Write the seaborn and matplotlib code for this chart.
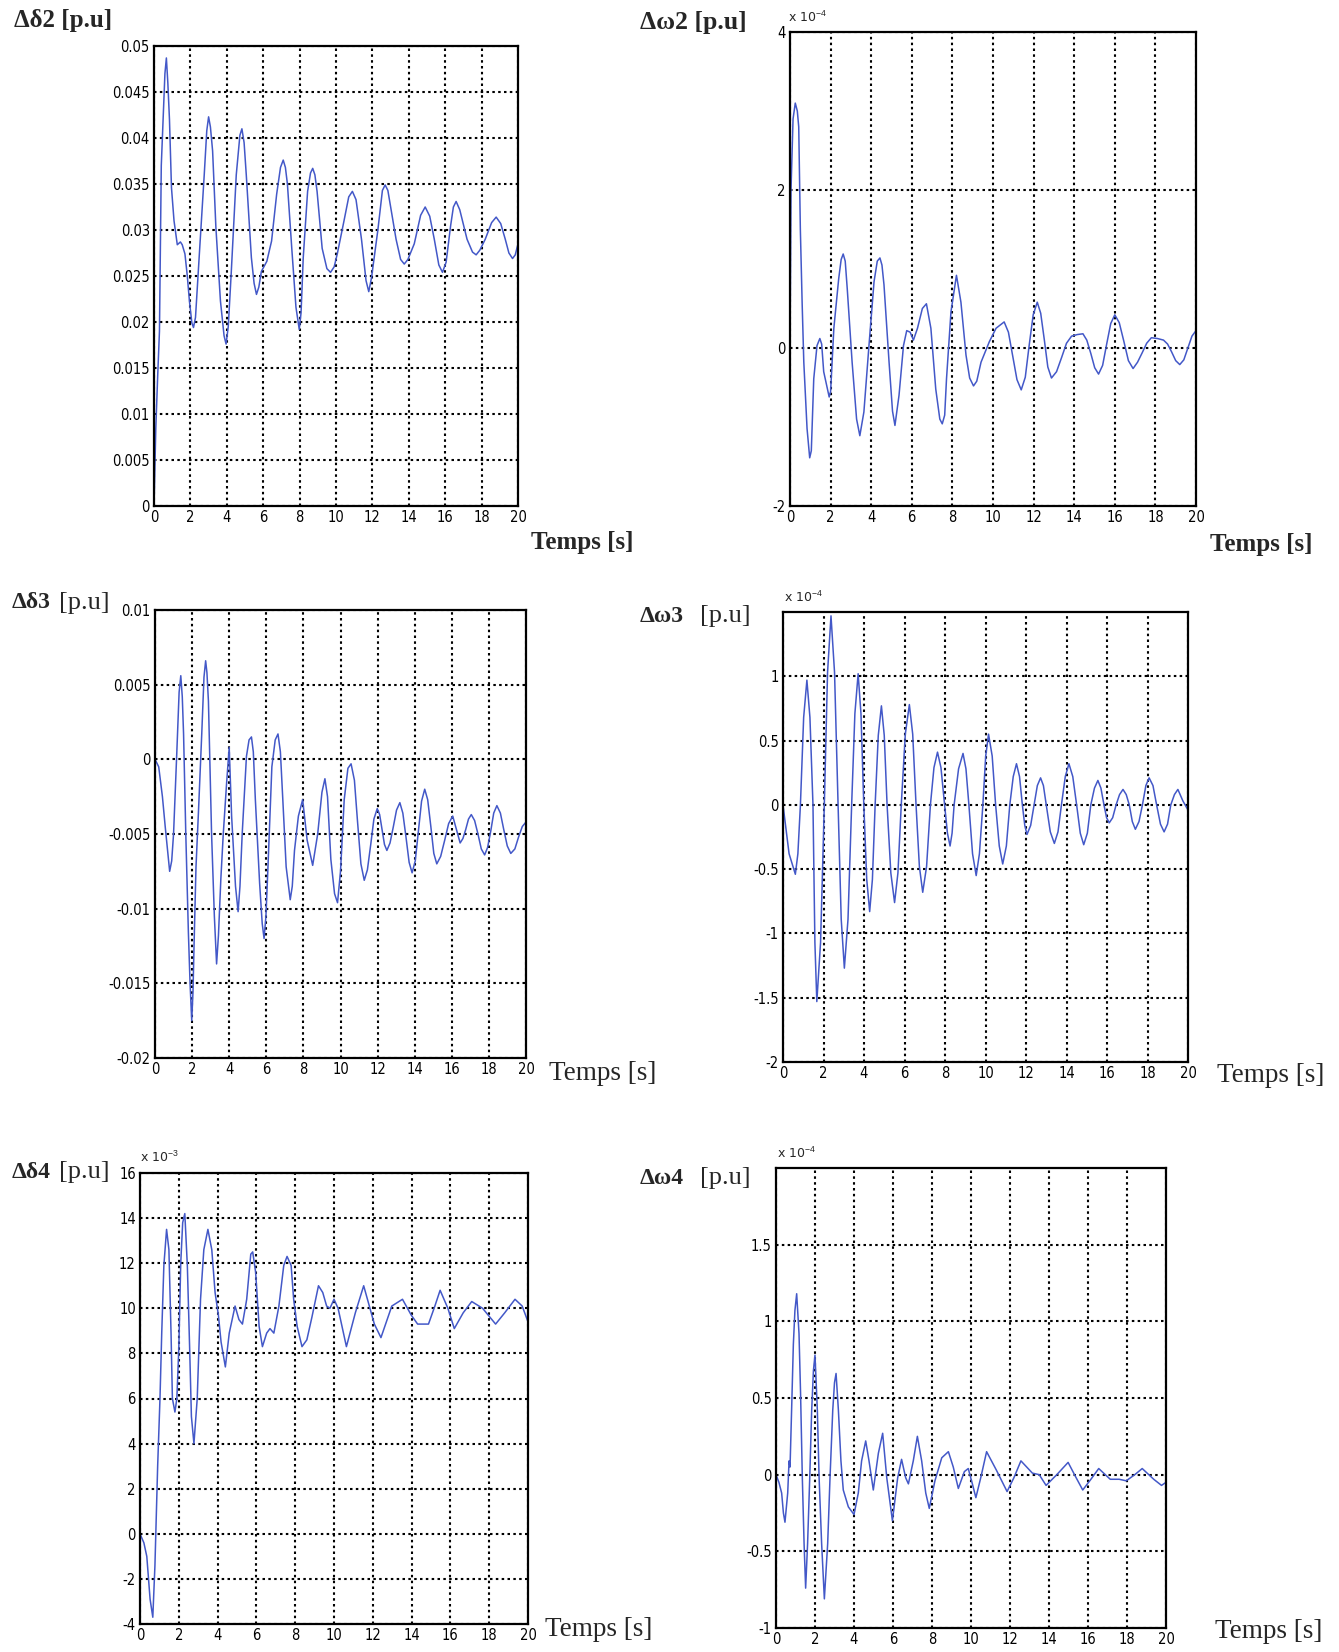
import matplotlib
matplotlib.use("Agg")
import matplotlib.pyplot as plt
from matplotlib.ticker import FuncFormatter
import seaborn as sns

# ---- Δδ2 [p.u] ----
t_d2 = [0, 0.1, 0.2, 0.3, 0.4, 0.5, 0.6, 0.68, 0.76, 0.85, 0.96, 1.1, 1.28, 1.45, 1.55, 1.7, 1.83, 1.95,
        2.08, 2.17, 2.28, 2.48, 2.76, 2.9, 3.0, 3.1, 3.22, 3.4, 3.65, 3.85, 3.96, 4.08, 4.24, 4.52, 4.72,
        4.83, 4.95, 5.07, 5.35, 5.5, 5.63, 5.76, 5.9, 6.2, 6.46, 6.74, 6.95, 7.1, 7.22, 7.33, 7.57, 7.8,
        7.98, 8.08, 8.2, 8.44, 8.6, 8.72, 8.84, 8.96, 9.24, 9.5, 9.7, 9.9, 10.07, 10.44, 10.7, 10.9, 11.1,
        11.4, 11.65, 11.8, 11.95, 12.3, 12.55, 12.7, 12.85, 13.3, 13.55, 13.75, 13.95, 14.3, 14.65, 14.9,
        15.15, 15.4, 15.65, 15.85, 16.05, 16.3, 16.45, 16.6, 16.8, 17.2, 17.5, 17.7, 17.9, 18.2, 18.55,
        18.8, 19.05, 19.3, 19.5, 19.7, 19.85, 20.0]
d_delta2 = [0, 0.0085, 0.014, 0.019, 0.037, 0.042, 0.047, 0.0487, 0.046, 0.042, 0.0346, 0.031, 0.0284,
            0.0287, 0.0284, 0.0274, 0.025, 0.0222, 0.0199, 0.0194, 0.0205, 0.027, 0.036, 0.0408, 0.0423,
            0.0412, 0.0386, 0.0303, 0.0223, 0.0185, 0.0176, 0.0195, 0.0252, 0.036, 0.0403, 0.041, 0.0395,
            0.036, 0.027, 0.0242, 0.023, 0.0238, 0.0255, 0.0266, 0.0288, 0.0339, 0.0368, 0.0376, 0.0368,
            0.035, 0.028, 0.0216, 0.0192, 0.021, 0.027, 0.0342, 0.0362, 0.0367, 0.036, 0.0342, 0.028,
            0.0258, 0.0254, 0.026, 0.0274, 0.031, 0.0336, 0.0342, 0.0333, 0.029, 0.0245, 0.0233, 0.0248,
            0.030, 0.0343, 0.0349, 0.0343, 0.029, 0.0268, 0.0263, 0.0268, 0.0285, 0.0316, 0.0325, 0.0315,
            0.029, 0.0262, 0.0254, 0.0265, 0.0305, 0.0325, 0.0331, 0.0322, 0.029, 0.0276, 0.0273, 0.0278,
            0.029, 0.0308, 0.0314, 0.0307, 0.029, 0.0275, 0.0269, 0.0273, 0.0285]

# ---- Δω2 [p.u] (x 1e-4) ----
t_w2 = [0, 0.05, 0.15, 0.26, 0.36, 0.43, 0.51, 0.6, 0.68, 0.84, 0.97, 1.05, 1.17, 1.33, 1.47, 1.56, 1.66,
        1.93, 2.0, 2.16, 2.4, 2.52, 2.62, 2.72, 2.82, 3.06, 3.28, 3.44, 3.64, 3.89, 4.14, 4.3, 4.43, 4.53,
        4.63, 4.88, 5.05, 5.17, 5.37, 5.59, 5.75, 5.92, 6.08, 6.28, 6.52, 6.72, 6.94, 7.18, 7.38, 7.5,
        7.62, 7.71, 7.93, 8.2, 8.42, 8.67, 8.85, 9.04, 9.2, 9.41, 9.82, 10.15, 10.55, 10.76, 10.97, 11.18,
        11.39, 11.59, 11.78, 11.98, 12.18, 12.35, 12.53, 12.7, 12.88, 13.13, 13.38, 13.62, 13.87, 14.15,
        14.43, 14.62, 14.82, 15.01, 15.2, 15.4, 15.6, 15.8, 16.0, 16.22, 16.45, 16.67, 16.9, 17.12,
        17.35, 17.57, 17.8, 18.1, 18.4, 18.6, 18.8, 19.0, 19.2, 19.4, 19.6, 19.8, 20.0]
d_omega2 = [0, 2.0, 2.9, 3.1, 3.0, 2.8, 1.5, 0.55, -0.18, -1.02, -1.39, -1.3, -0.39, 0.03, 0.12, 0.05,
            -0.3, -0.62, -0.55, 0.25, 0.88, 1.12, 1.19, 1.1, 0.75, -0.18, -0.9, -1.11, -0.81, 0.03, 0.84,
            1.1, 1.14, 1.05, 0.8, -0.18, -0.8, -0.98, -0.6, 0.03, 0.22, 0.2, 0.1, 0.25, 0.5, 0.56, 0.25,
            -0.52, -0.9, -0.96, -0.85, -0.39, 0.46, 0.92, 0.58, -0.09, -0.38, -0.48, -0.42, -0.18, 0.08,
            0.25, 0.33, 0.2, -0.1, -0.4, -0.53, -0.37, 0.03, 0.42, 0.58, 0.44, 0.1, -0.24, -0.38, -0.3,
            -0.12, 0.06, 0.15, 0.17, 0.18, 0.1, -0.07, -0.25, -0.33, -0.22, 0.05, 0.31, 0.42, 0.32, 0.08,
            -0.16, -0.26, -0.18, -0.06, 0.06, 0.13, 0.12, 0.1, 0.05, -0.05, -0.16, -0.21, -0.15, 0.0,
            0.15, 0.22]

# ---- Δδ3 [p.u] ----
t_d3 = [0, 0.2, 0.4, 0.55, 0.79, 0.9, 1.0, 1.18, 1.3, 1.39, 1.47, 1.54, 1.66, 1.8, 1.89, 1.98, 2.05, 2.1,
        2.21, 2.34, 2.52, 2.64, 2.73, 2.8, 2.88, 3.05, 3.2, 3.32, 3.42, 3.55, 3.68, 3.86, 4.0, 4.13, 4.34,
        4.48, 4.58, 4.7, 4.93, 5.07, 5.2, 5.3, 5.41, 5.64, 5.78, 5.88, 5.98, 6.09, 6.3, 6.48, 6.63, 6.76,
        6.89, 7.07, 7.29, 7.4, 7.52, 7.73, 7.96, 8.2, 8.5, 8.77, 9.0, 9.16, 9.3, 9.48, 9.68, 9.84, 10.0,
        10.2, 10.4, 10.57, 10.75, 10.92, 11.1, 11.28, 11.45, 11.63, 11.8, 11.98, 12.11, 12.24, 12.37,
        12.5, 12.67, 12.85, 13.02, 13.2, 13.36, 13.53, 13.7, 13.86, 14.03, 14.2, 14.37, 14.54, 14.7,
        14.87, 15.03, 15.19, 15.4, 15.62, 15.83, 16.05, 16.25, 16.45, 16.6, 16.75, 16.9, 17.05, 17.23,
        17.41, 17.59, 17.77, 17.93, 18.1, 18.26, 18.43, 18.62, 18.8, 18.99, 19.18, 19.4, 19.6, 19.8,
        20.0]
d_delta3 = [0, -0.0005, -0.0025, -0.0045, -0.0075, -0.0068, -0.005, 0.0006, 0.0045, 0.0056, 0.0042,
            0.0017, -0.005, -0.0116, -0.015, -0.0175, -0.0155, -0.0127, -0.0072, -0.0036, 0.0017, 0.0055,
            0.0066, 0.0058, 0.0039, -0.005, -0.0105, -0.0137, -0.0118, -0.008, -0.005, -0.0016, 0.0008,
            -0.0038, -0.0085, -0.0102, -0.0085, -0.005, 0.0002, 0.0013, 0.0015, 0.0005, -0.0027, -0.0083,
            -0.011, -0.012, -0.0105, -0.0072, -0.0005, 0.0013, 0.0017, 0.0005, -0.0027, -0.0072, -0.0094,
            -0.0085, -0.0061, -0.0038, -0.0027, -0.0054, -0.0071, -0.005, -0.0022, -0.0013, -0.0025,
            -0.0067, -0.009, -0.0096, -0.0075, -0.0027, -0.0006, -0.0003, -0.0014, -0.0042, -0.007,
            -0.0081, -0.0074, -0.0057, -0.004, -0.0033, -0.0037, -0.0047, -0.0057, -0.0061, -0.0056,
            -0.0045, -0.0034, -0.0029, -0.0036, -0.0052, -0.0069, -0.0076, -0.0068, -0.0048, -0.0028,
            -0.002, -0.0027, -0.0045, -0.0063, -0.007, -0.0065, -0.0054, -0.0043, -0.0038, -0.0047,
            -0.0056, -0.0053, -0.0047, -0.004, -0.0037, -0.0041, -0.005, -0.006, -0.0064, -0.0059,
            -0.0048, -0.0036, -0.0031, -0.0036, -0.0047, -0.0058, -0.0063, -0.006, -0.0052, -0.0045,
            -0.0042]

# ---- Δω3 [p.u] (x 1e-4) ----
t_w3 = [0, 0.3, 0.61, 0.735, 0.86, 1.02, 1.18, 1.33, 1.48, 1.575, 1.67, 1.855, 2.04, 2.2, 2.37, 2.545,
        2.72, 2.875, 3.03, 3.21, 3.39, 3.55, 3.71, 3.85, 3.99, 4.135, 4.28, 4.415, 4.55, 4.705, 4.86, 5.0,
        5.14, 5.325, 5.51, 5.675, 5.84, 6.04, 6.24, 6.405, 6.57, 6.735, 6.9, 7.09, 7.28, 7.455, 7.63,
        7.8, 7.98, 8.12, 8.25, 8.35, 8.45, 8.67, 8.89, 9.035, 9.18, 9.36, 9.54, 9.7, 9.87, 10.01, 10.15,
        10.33, 10.5, 10.68, 10.85, 11.03, 11.2, 11.37, 11.53, 11.68, 11.82, 11.94, 12.05, 12.23, 12.4,
        12.56, 12.72, 12.86, 13.0, 13.2, 13.4, 13.58, 13.75, 13.94, 14.12, 14.31, 14.5, 14.68, 14.85,
        15.03, 15.2, 15.38, 15.55, 15.7, 15.85, 15.98, 16.11, 16.28, 16.45, 16.62, 16.79, 16.95, 17.1,
        17.25, 17.4, 17.58, 17.75, 17.92, 18.08, 18.27, 18.45, 18.64, 18.82, 18.99, 19.15, 19.33, 19.5,
        19.75, 20.0]
d_omega3 = [0, -0.38, -0.54, -0.38, 0, 0.68, 0.97, 0.68, 0, -1.07, -1.53, -1.07, 0, 1.03, 1.47, 1.03, 0,
            -0.89, -1.27, -0.89, 0, 0.71, 1.02, 0.71, 0, -0.58, -0.83, -0.58, 0, 0.54, 0.77, 0.54, 0,
            -0.53, -0.76, -0.53, 0, 0.55, 0.78, 0.55, 0, -0.48, -0.68, -0.48, 0, 0.29, 0.41, 0.29, 0.0,
            -0.22, -0.32, -0.22, 0, 0.28, 0.4, 0.28, 0, -0.38, -0.55, -0.38, 0, 0.38, 0.55, 0.38, 0,
            -0.32, -0.46, -0.32, 0, 0.22, 0.32, 0.22, 0, -0.16, -0.23, -0.16, 0, 0.15, 0.21, 0.15, 0,
            -0.21, -0.3, -0.21, 0, 0.22, 0.32, 0.22, 0, -0.22, -0.31, -0.22, 0, 0.13, 0.19, 0.13, 0,
            -0.1, -0.14, -0.1, 0, 0.08, 0.12, 0.08, 0, -0.13, -0.19, -0.13, 0, 0.15, 0.21, 0.15, 0,
            -0.15, -0.21, -0.15, 0, 0.08, 0.12, 0.03, -0.04]

# ---- Δδ4 [p.u] (x 1e-3) ----
t_d4 = [0, 0.2, 0.35, 0.52, 0.66, 0.77, 0.91, 1.03, 1.12, 1.23, 1.37, 1.49, 1.6, 1.67, 1.8, 1.9, 2.0,
        2.1, 2.2, 2.31, 2.44, 2.56, 2.65, 2.78, 2.95, 3.12, 3.29, 3.5, 3.7, 3.87, 4.04, 4.18, 4.4, 4.6,
        4.9, 5.1, 5.28, 5.5, 5.71, 5.81, 5.96, 6.14, 6.31, 6.53, 6.7, 6.9, 7.16, 7.41, 7.58, 7.79, 7.92,
        8.1, 8.35, 8.6, 8.86, 9.2, 9.42, 9.62, 9.79, 10.0, 10.21, 10.64, 11.1, 11.53, 12.08, 12.42,
        12.98, 13.53, 13.98, 14.31, 14.87, 15.2, 15.47, 15.87, 16.2, 16.66, 17.1, 17.66, 18.33, 18.8,
        19.33, 19.7, 20.0]
d_delta4 = [0, -0.4, -1.0, -2.9, -3.7, -1.4, 3.0, 6.0, 8.9, 11.9, 13.5, 12.6, 8.9, 6.0, 5.4, 6.0, 8.2,
            12.0, 13.8, 14.2, 11.9, 8.2, 5.2, 4.0, 6.0, 10.4, 12.6, 13.5, 12.6, 10.7, 9.7, 8.5, 7.4,
            8.9, 10.1, 9.5, 9.3, 10.4, 12.4, 12.5, 11.6, 9.2, 8.3, 8.9, 9.1, 8.9, 10.1, 11.9, 12.3,
            11.9, 10.4, 9.2, 8.3, 8.6, 9.6, 11.0, 10.7, 10.1, 10.0, 10.4, 10.0, 8.3, 9.8, 11.0, 9.3,
            8.7, 10.1, 10.4, 9.7, 9.3, 9.3, 10.1, 10.8, 10.0, 9.1, 9.8, 10.3, 10.0, 9.3, 9.8, 10.4,
            10.1, 9.4]

# ---- Δω4 [p.u] (x 1e-4) ----
t_w4 = [0, 0.15, 0.29, 0.38, 0.46, 0.6, 0.67, 0.72, 0.8, 0.89, 0.97, 1.06, 1.18, 1.26, 1.35, 1.44, 1.52,
        1.62, 1.73, 1.83, 1.92, 2.0, 2.12, 2.21, 2.34, 2.48, 2.65, 2.77, 2.91, 3.0, 3.08, 3.2, 3.33,
        3.45, 3.71, 4.0, 4.22, 4.39, 4.6, 4.77, 4.99, 5.25, 5.47, 5.68, 5.97, 6.24, 6.44, 6.65, 6.79,
        7.04, 7.25, 7.47, 7.68, 7.86, 8.15, 8.5, 8.84, 9.09, 9.35, 9.66, 9.86, 10.07, 10.25, 10.5, 10.8,
        11.3, 11.85, 12.2, 12.56, 13.15, 13.5, 13.85, 14.4, 14.98, 15.35, 15.73, 16.15, 16.55, 17.14,
        17.6, 17.96, 18.4, 18.78, 19.37, 19.77, 20.0]
d_omega4 = [0, -0.05, -0.12, -0.25, -0.31, -0.12, 0.09, 0.05, 0.42, 0.85, 1.07, 1.18, 0.92, 0.53, -0.02,
            -0.45, -0.74, -0.45, -0.02, 0.42, 0.68, 0.78, 0.42, -0.02, -0.45, -0.81, -0.45, -0.02, 0.42,
            0.6, 0.66, 0.42, 0.09, -0.1, -0.21, -0.26, -0.12, 0.09, 0.22, 0.09, -0.1, 0.14, 0.27, -0.02,
            -0.3, -0.02, 0.1, -0.02, -0.06, 0.09, 0.25, 0.09, -0.12, -0.22, -0.04, 0.11, 0.15, 0.05,
            -0.09, 0.02, 0.04, -0.06, -0.15, -0.02, 0.15, 0.03, -0.11, -0.02, 0.09, 0.01, 0.0, -0.07,
            0.0, 0.08, -0.01, -0.1, -0.03, 0.04, -0.03, -0.03, -0.04, 0.0, 0.04, -0.03, -0.07, -0.05]

x_ticks = list(range(0, 21, 2))

sns.set_style("white")
plt.rcParams["font.family"] = ["Liberation Serif", "DejaVu Serif"]
plt.rcParams["mathtext.fontset"] = "custom"
plt.rcParams["mathtext.rm"] = "Liberation Sans"

W, H = 1339, 1652
fig = plt.figure(figsize=(W / 100, H / 100), dpi=100)
fig.patch.set_facecolor("white")

LINE_COLOR = "#4358c8"
TICK_FONT = dict(family=["Liberation Sans Narrow", "DejaVu Sans"], size=10.5, stretch="condensed")


def px_axes(left, top, right, bottom):
    return fig.add_axes([left / W, 1 - bottom / H, (right - left) / W, (bottom - top) / H])


def panel(box, t, y, scale, ylim, yticks):
    ax = px_axes(*box)
    sns.lineplot(x=t, y=[v * scale for v in y], ax=ax, color=LINE_COLOR, linewidth=1.1,
                 estimator=None, sort=False)
    ax.set_xlim(0, 20)
    ax.set_ylim(ylim[0] * scale, ylim[1] * scale)
    ax.set_xticks(x_ticks)
    ax.set_yticks([v * scale for v in yticks])
    ax.xaxis.set_major_formatter(FuncFormatter(lambda v, p: f"{round(v, 6):g}"))
    ax.yaxis.set_major_formatter(FuncFormatter(lambda v, p: f"{round(v / scale, 6):g}"))
    for lab in ax.get_xticklabels() + ax.get_yticklabels():
        lab.set_fontfamily(TICK_FONT["family"])
        lab.set_fontsize(TICK_FONT["size"])
        lab.set_fontstretch(TICK_FONT["stretch"])
    ax.tick_params(direction="in", length=4, width=1, colors="black", pad=3)
    ax.grid(True, color="black", linestyle=(0, (1.2, 1.6)), linewidth=1.5)
    for s in ax.spines.values():
        s.set_visible(True)
        s.set_color("black")
        s.set_linewidth(1.6)
    ax.set_xlabel("")
    ax.set_ylabel("")
    return ax


def ftext(x, y, s, **kw):
    fig.text(x / W, 1 - y / H, s, va="center", ha="left", **kw)


# Row 1
panel((154, 46, 518, 506), t_d2, d_delta2, 1.0, (0, 0.05),
      [0, 0.005, 0.01, 0.015, 0.02, 0.025, 0.03, 0.035, 0.04, 0.045, 0.05])
panel((790, 32, 1196, 506), t_w2, d_omega2, 1e-4, (-2, 4), [-2, 0, 2, 4])
# Row 2
panel((155, 610, 526, 1058), t_d3, d_delta3, 1.0, (-0.02, 0.01),
      [-0.02, -0.015, -0.01, -0.005, 0, 0.005, 0.01])
panel((783, 612, 1188, 1062), t_w3, d_omega3, 1e-4, (-2, 1.5), [-2, -1.5, -1, -0.5, 0, 0.5, 1])
# Row 3
panel((140, 1173, 528, 1624), t_d4, d_delta4, 1e-3, (-4, 16), list(range(-4, 17, 2)))
panel((776, 1168, 1166, 1628), t_w4, d_omega4, 1e-4, (-1, 2), [-1, -0.5, 0, 0.5, 1, 1.5])

# Variable names
ftext(14, 21, "Δδ2 [p.u]", fontsize=18, fontweight="bold")
ftext(640, 23, "Δω2 [p.u]", fontsize=18.5, fontweight="bold")
ftext(12, 603, "Δδ3", fontsize=17, fontweight="bold")
ftext(59, 603, "[p.u]", fontsize=19)
ftext(640, 616, "Δω3", fontsize=17, fontweight="bold")
ftext(700, 616, "[p.u]", fontsize=19)
ftext(12, 1172, "Δδ4", fontsize=17, fontweight="bold")
ftext(59, 1172, "[p.u]", fontsize=19)
ftext(640, 1178, "Δω4", fontsize=17, fontweight="bold")
ftext(700, 1178, "[p.u]", fontsize=19)

# Time axis names
ftext(531, 542, "Temps [s]", fontsize=18, fontweight="bold")
ftext(1210, 545, "Temps [s]", fontsize=18, fontweight="bold")
ftext(549, 1074, "Temps [s]", fontsize=19.5)
ftext(1217, 1076, "Temps [s]", fontsize=19.5)
ftext(545, 1629, "Temps [s]", fontsize=19.5)
ftext(1215, 1632, "Temps [s]", fontsize=19.5)

# Exponent markers
ftext(788, 17, r"x 10$^{-4}$", fontsize=9, family=["Liberation Sans Narrow", "DejaVu Sans"])
ftext(784, 597, r"x 10$^{-4}$", fontsize=9, family=["Liberation Sans Narrow", "DejaVu Sans"])
ftext(140, 1157, r"x 10$^{-3}$", fontsize=9, family=["Liberation Sans Narrow", "DejaVu Sans"])
ftext(777, 1153, r"x 10$^{-4}$", fontsize=9, family=["Liberation Sans Narrow", "DejaVu Sans"])

fig.savefig("out.png", dpi=100, facecolor="white")
